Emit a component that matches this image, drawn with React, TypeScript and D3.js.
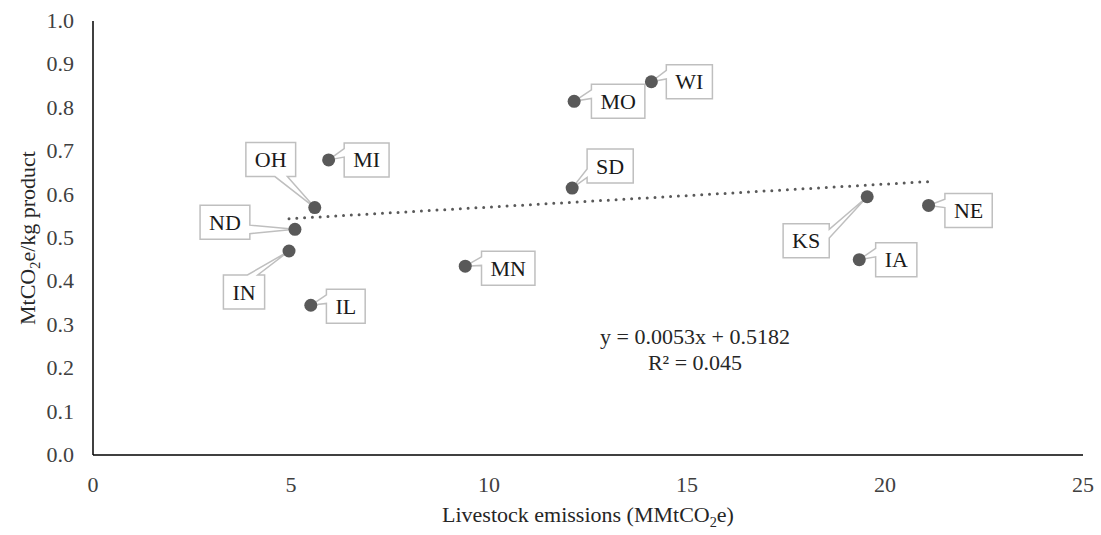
import React, { useMemo } from 'react';
import * as d3 from 'd3';

// State-level livestock emissions vs. emission intensity
const states = ['WI', 'MO', 'MI', 'OH', 'SD', 'ND', 'IN', 'IL', 'MN', 'KS', 'IA', 'NE'];
const emissions = [14.1, 12.15, 5.95, 5.6, 12.1, 5.1, 4.95, 5.5, 9.4, 19.55, 19.35, 21.1];
const intensity = [0.86, 0.815, 0.68, 0.57, 0.615, 0.52, 0.47, 0.345, 0.435, 0.595, 0.45, 0.575];

const xTicks = [0, 5, 10, 15, 20, 25];
const yTicks = [0, 0.1, 0.2, 0.3, 0.4, 0.5, 0.6, 0.7, 0.8, 0.9, 1.0];

// Linear trendline reported for the series
const trendSlope = 0.0053;
const trendIntercept = 0.5182;
const rSquared = 0.045;

// Callout box centre offsets (px) from each point
const calloutOffsets: Record<string, [number, number]> = {
  WI: [38, 0],
  MO: [44, 0],
  MI: [38, 0],
  OH: [-44, -48],
  SD: [38, -22],
  ND: [-70, -7],
  IN: [-45, 41],
  IL: [35, 1],
  MN: [43, 2],
  KS: [-61, 44],
  IA: [37, 0],
  NE: [40, 5],
};

const W = 1101;
const H = 535;
const M = { left: 93, right: 18, top: 21, bottom: 80 };
const FONT = "'Liberation Serif', 'Times New Roman', serif";
const FS = 22;

function measure(text: string, size: number): number {
  const c = document.createElement('canvas').getContext('2d');
  if (!c) return text.length * size * 0.6;
  c.font = `${size}px ${FONT}`;
  return c.measureText(text).width;
}

// wedgeRectCallout outline: box (l,t,w,h) with a pointer to (tx,ty)
function calloutPath(l: number, t: number, w: number, h: number, tx: number, ty: number): string {
  const r = l + w;
  const b = t + h;
  const hc = l + w / 2;
  const vc = t + h / 2;
  const dxPos = tx - hc;
  const dyPos = ty - vc;
  const xPos = tx;
  const yPos = ty;
  const dq = (dxPos * h) / w;
  const dz = Math.abs(dyPos) - Math.abs(dq);
  const xg1 = dxPos > 0 ? 7 : 2;
  const xg2 = dxPos > 0 ? 10 : 5;
  const x1 = l + (w * xg1) / 12;
  const x2 = l + (w * xg2) / 12;
  const yg1 = dyPos > 0 ? 7 : 2;
  const yg2 = dyPos > 0 ? 10 : 5;
  const y1 = t + (h * yg1) / 12;
  const y2 = t + (h * yg2) / 12;
  const t1 = dxPos > 0 ? l : xPos;
  const xl = dz > 0 ? l : t1;
  const t2 = dyPos > 0 ? x1 : xPos;
  const xt = dz > 0 ? t2 : x1;
  const t3 = dxPos > 0 ? xPos : r;
  const xr = dz > 0 ? r : t3;
  const t4 = dyPos > 0 ? xPos : x1;
  const xb = dz > 0 ? t4 : x1;
  const t5 = dxPos > 0 ? y1 : yPos;
  const yl = dz > 0 ? y1 : t5;
  const t6 = dyPos > 0 ? t : yPos;
  const yt = dz > 0 ? t6 : t;
  const t7 = dxPos > 0 ? yPos : y1;
  const yr = dz > 0 ? y1 : t7;
  const t8 = dyPos > 0 ? yPos : b;
  const yb = dz > 0 ? t8 : b;
  const p = d3.path();
  p.moveTo(l, t);
  p.lineTo(x1, t);
  p.lineTo(xt, yt);
  p.lineTo(x2, t);
  p.lineTo(r, t);
  p.lineTo(r, y1);
  p.lineTo(xr, yr);
  p.lineTo(r, y2);
  p.lineTo(r, b);
  p.lineTo(x2, b);
  p.lineTo(xb, yb);
  p.lineTo(x1, b);
  p.lineTo(l, b);
  p.lineTo(l, y2);
  p.lineTo(xl, yl);
  p.lineTo(l, y1);
  p.closePath();
  return p.toString();
}

export default function App() {
  const x = d3.scaleLinear().domain([0, 25]).range([M.left, W - M.right]);
  const y = d3.scaleLinear().domain([0, 1]).range([H - M.bottom, M.top]);

  const points = states.map((s, i) => ({ s, px: x(emissions[i]), py: y(intensity[i]) }));

  const xMin = d3.min(emissions) as number;
  const xMax = d3.max(emissions) as number;
  const trend = d3
    .line<number>()
    .x((v) => x(v))
    .y((v) => y(trendSlope * v + trendIntercept))([xMin, xMax]);

  const callouts = useMemo(
    () =>
      points.map((p) => {
        const [dx, dy] = calloutOffsets[p.s];
        const w = measure(p.s, FS) + 18;
        const h = 34;
        const cx = p.px + dx;
        const cy = p.py + dy;
        return { ...p, cx, cy, d: calloutPath(cx - w / 2, cy - h / 2, w, h, p.px, p.py) };
      }),
    []
  );

  const plotCx = (x(0) + x(25)) / 2;
  const plotCy = (y(0) + y(1)) / 2;

  return (
    <svg
      width={W}
      height={H}
      style={{ position: 'absolute', left: 0, top: 0, background: '#fff' }}
      fontFamily={FONT}
    >
      {/* axes */}
      <line x1={x(0)} x2={x(0)} y1={y(0)} y2={y(1)} stroke="#000" strokeWidth={1.5} />
      <line x1={x(0)} x2={x(25)} y1={y(0)} y2={y(0)} stroke="#000" strokeWidth={1.5} />

      {yTicks.map((t) => (
        <text
          key={'y' + t}
          x={x(0) - 19}
          y={y(t)}
          dy="0.32em"
          textAnchor="end"
          fontSize={FS}
          fill="#404040"
        >
          {d3.format('.1f')(t)}
        </text>
      ))}
      {xTicks.map((t) => (
        <text
          key={'x' + t}
          x={x(t)}
          y={y(0) + 30}
          dy="0.32em"
          textAnchor="middle"
          fontSize={FS}
          fill="#404040"
        >
          {t}
        </text>
      ))}

      {/* axis titles */}
      <text x={plotCx} y={y(0) + 60} dy="0.32em" textAnchor="middle" fontSize={FS} fill="#262626">
        Livestock emissions (MMtCO
        <tspan fontSize={FS * 0.65} dy="0.35em">2</tspan>
        <tspan dy="-0.23em">e)</tspan>
      </text>
      <text
        transform={`translate(28,${plotCy}) rotate(-90)`}
        dy="0.32em"
        textAnchor="middle"
        fontSize={FS}
        fill="#262626"
      >
        MtCO
        <tspan fontSize={FS * 0.65} dy="0.35em">2</tspan>
        <tspan dy="-0.23em">e/kg product</tspan>
      </text>

      {/* trendline */}
      <path
        d={trend ?? ''}
        fill="none"
        stroke="#595959"
        strokeWidth={3}
        strokeLinecap="round"
        strokeDasharray="0 7.8"
      />

      {/* data callouts */}
      {callouts.map((c) => (
        <g key={'c' + c.s}>
          <path d={c.d} fill="#fff" stroke="#bfbfbf" strokeWidth={1.5} strokeLinejoin="miter" />
        </g>
      ))}

      {/* points */}
      {points.map((p) => (
        <circle key={'p' + p.s} cx={p.px} cy={p.py} r={6.5} fill="#595959" />
      ))}

      {callouts.map((c) => (
        <text
          key={'t' + c.s}
          x={c.cx}
          y={c.cy}
          dy="0.34em"
          textAnchor="middle"
          fontSize={FS}
          fill="#1a1a1a"
        >
          {c.s}
        </text>
      ))}

      {/* regression equation */}
      <text x={695} y={337} dy="0.32em" textAnchor="middle" fontSize={FS} fill="#262626">
        {`y = ${trendSlope}x + ${trendIntercept}`}
      </text>
      <text x={695} y={363} dy="0.32em" textAnchor="middle" fontSize={FS} fill="#262626">
        {`R² = ${rSquared}`}
      </text>
    </svg>
  );
}
